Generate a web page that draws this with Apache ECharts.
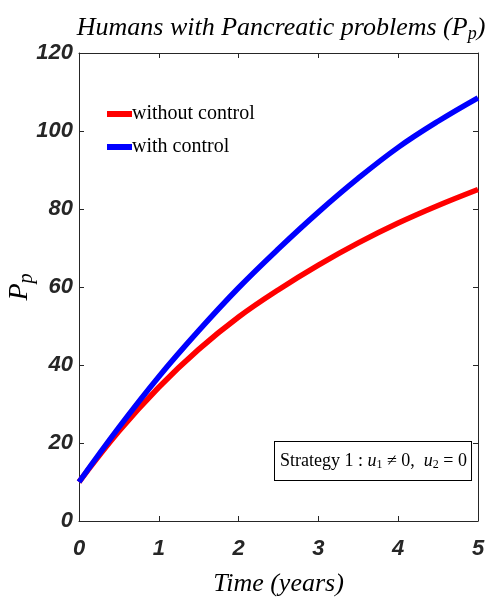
<!DOCTYPE html>
<html><head><meta charset="utf-8">
<script src="https://cdn.jsdelivr.net/npm/echarts@6/dist/echarts.min.js"></script>
<style>html,body{margin:0;padding:0;background:#fff}#c{width:486px;height:604px}</style>
</head><body><div id="c"></div>
<script>
const times = [0, 0.5, 1, 1.5, 2, 2.5, 3, 3.5, 4, 4.5, 5];
const withoutControl = [10, 23, 34.3, 44, 52.3, 59.3, 65.6, 71.3, 76.4, 80.9, 85];
const withControl = [10, 24, 37, 48.8, 59.8, 69.8, 79.2, 87.9, 95.8, 102.5, 108.5];
const xTicks = [0, 1, 2, 3, 4, 5];
const yTicks = [0, 20, 40, 60, 80, 100, 120];

const tickFont = {fontFamily: '"Liberation Sans Narrow","Liberation Sans",sans-serif', fontStyle: 'italic', fontWeight: 'bold', fontSize: 22, color: '#262626'};
const axisColor = '#262626';
const chart = echarts.init(document.getElementById('c'), null, {renderer: 'canvas'});
const pair = a => times.map((t, i) => [t, a[i]]);
const frameAxis = {
  axisLine: {show: true, onZero: false, lineStyle: {color: axisColor, width: 1}},
  axisTick: {show: true, inside: true, length: 5, lineStyle: {color: axisColor}},
  splitLine: {show: false}
};
chart.setOption({
  animation: false,
  title: {
    text: '{t|Humans with Pancreatic problems (}{t|P}{s|p}{t|)}',
    left: 276, top: 8, textAlign: 'center',
    textStyle: {fontWeight: 'normal', rich: {
      t: {fontFamily: '"Liberation Serif",serif', fontStyle: 'italic', fontWeight: 'normal', fontSize: 26, color: '#000'},
      s: {fontFamily: '"Liberation Serif",serif', fontStyle: 'italic', fontWeight: 'normal', fontSize: 18, color: '#000', verticalAlign: 'bottom', padding: [12, 0, 0, 0]}
    }}
  },
  legend: {
    left: 102, top: 99, orient: 'vertical', itemGap: 13,
    itemWidth: 25, itemHeight: 6, icon: 'rect',
    textStyle: {fontFamily: '"Liberation Serif",serif', fontSize: 20, color: '#000', padding: [0, 0, 0, -5]},
    data: ['without control', 'with control']
  },
  grid: {left: 79, right: 8, top: 53, bottom: 83, containLabel: false, outerBoundsMode: 'none'},
  xAxis: [Object.assign({
    type: 'value', min: 0, max: 5, interval: 1,
    axisLabel: Object.assign({margin: 17, formatter: v => xTicks.includes(v) ? String(v) : ''}, tickFont),
    name: 'Time (years)', nameLocation: 'middle', nameGap: 50, nameMoveOverlap: false,
    nameTextStyle: {fontFamily: '"Liberation Serif",serif', fontStyle: 'italic', fontSize: 26, color: '#000'}
  }, frameAxis), Object.assign({
    type: 'value', min: 0, max: 5, interval: 1, position: 'top',
    axisLabel: {show: false}
  }, frameAxis)],
  yAxis: [Object.assign({
    type: 'value', min: 0, max: 120, interval: 20,
    axisLabel: Object.assign({margin: 6, formatter: v => yTicks.includes(v) ? String(v) : ''}, tickFont),
    name: '{t|P}{s|p}', nameLocation: 'middle', nameGap: 42, nameRotate: 90, nameMoveOverlap: false,
    nameTextStyle: {rich: {
      t: {fontFamily: '"Liberation Serif",serif', fontStyle: 'italic', fontSize: 28, color: '#000'},
      s: {fontFamily: '"Liberation Serif",serif', fontStyle: 'italic', fontSize: 20, color: '#000', verticalAlign: 'bottom', padding: [14, 0, 0, 0]}
    }}
  }, frameAxis), Object.assign({
    type: 'value', min: 0, max: 120, interval: 20, position: 'right',
    axisLabel: {show: false}
  }, frameAxis)],
  graphic: [{
    type: 'text', left: 274, top: 441, z: 10,
    style: {
      text: '{r|Strategy 1 : }{i|u}{b|1}{r| ≠ 0,  }{i|u}{b|2}{r| = 0}',
      backgroundColor: '#fff', borderColor: '#000', borderWidth: 1,
      padding: [9, 4, 9, 5],
      rich: {
        r: {fontFamily: '"Liberation Serif",serif', fontSize: 18, color: '#000'},
        i: {fontFamily: '"Liberation Serif",serif', fontStyle: 'italic', fontSize: 18, color: '#000'},
        b: {fontFamily: '"Liberation Serif",serif', fontSize: 12, color: '#000', verticalAlign: 'bottom', padding: [8, 0, 0, 0]}
      }
    }
  }],
  series: [{
    name: 'without control', type: 'line', data: pair(withoutControl), smooth: 0.4,
    showSymbol: false, symbol: 'none', color: '#ff0000', lineStyle: {width: 5.5, color: '#ff0000'}
  }, {
    name: 'with control', type: 'line', data: pair(withControl), smooth: 0.4,
    showSymbol: false, symbol: 'none', color: '#0000ff', lineStyle: {width: 5.5, color: '#0000ff'}
  }]
});
</script></body></html>
